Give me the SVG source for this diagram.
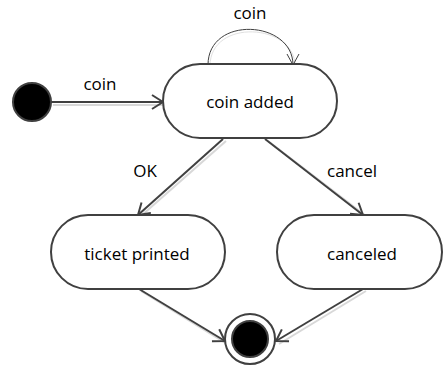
<svg xmlns="http://www.w3.org/2000/svg" width="444" height="366" viewBox="0 0 444 366">
<style>
.state{fill:#fff;stroke:#404040;stroke-width:2}
.lbl{font-family:"Open Sans","Liberation Sans",sans-serif;font-size:17px;fill:#000;text-anchor:middle}
.edge{fill:none;stroke:#404040;stroke-width:2}
.thin{fill:none;stroke:#404040;stroke-width:1}
.shadow{fill:none;stroke:#d8d8d8;stroke-width:2}
</style>
<defs>
<marker id="arr" markerUnits="userSpaceOnUse" viewBox="-1 -9 13 18" refX="11" refY="0" markerWidth="13" markerHeight="18" orient="auto">
<path d="M0,-7 L11,0 L0,7" fill="none" stroke="#404040" stroke-width="2"/>
</marker>
<marker id="arrthin" markerUnits="userSpaceOnUse" viewBox="-1 -9 13 18" refX="11" refY="0" markerWidth="13" markerHeight="18" orient="auto">
<path d="M0,-6 L11,0 L0,6" fill="none" stroke="#404040" stroke-width="1"/>
</marker>
</defs>
<g id="connectors">
<g id="shadows">
<line class="shadow" x1="53" y1="105" x2="165" y2="105"/>
<line class="shadow" x1="226" y1="141" x2="141" y2="216"/>
<line class="shadow" x1="268" y1="141" x2="366" y2="216"/>
<line class="shadow" x1="141" y1="291" x2="227" y2="344"/>
<line class="shadow" x1="366" y1="291" x2="279" y2="344"/>
<path d="M210,66 C210,18 295,23 295,66" fill="none" stroke="#e0e0e0" stroke-width="1"/>
</g>
<line class="edge" x1="51" y1="102" x2="163" y2="102" marker-end="url(#arr)"/>
<path class="thin" d="M208,65 C208,15 293,20 293,65" marker-end="url(#arrthin)"/>
<line class="edge" x1="223" y1="139" x2="138" y2="215" marker-end="url(#arr)"/>
<line class="edge" x1="265" y1="139" x2="363" y2="215" marker-end="url(#arr)"/>
<line class="edge" x1="139" y1="289" x2="225" y2="341" marker-end="url(#arr)"/>
<line class="edge" x1="363" y1="289" x2="276" y2="341" marker-end="url(#arr)"/>
<text class="lbl" x="100" y="90">coin</text>
<text class="lbl" x="250" y="19">coin</text>
<text class="lbl" x="145" y="177">OK</text>
<text class="lbl" x="352" y="177">cancel</text>
</g>
<g id="initial">
<circle cx="32" cy="102" r="19" fill="#000" stroke="#404040" stroke-width="2"/>
</g>
<g id="coin_added">
<rect class="state" x="163" y="64" width="174" height="74" rx="37" ry="37"/>
<text class="lbl" x="250" y="108">coin added</text>
</g>
<g id="ticket_printed">
<rect class="state" x="51" y="215" width="174" height="74" rx="37" ry="37"/>
<text class="lbl" x="137" y="260">ticket printed</text>
</g>
<g id="canceled">
<rect class="state" x="277" y="215" width="165" height="74" rx="37" ry="37"/>
<text class="lbl" x="362" y="260">canceled</text>
</g>
<g id="final">
<circle cx="250" cy="339" r="25" fill="#fff" stroke="#404040" stroke-width="2"/>
<circle cx="250" cy="339" r="18" fill="#000" stroke="#404040" stroke-width="2"/>
</g>
</svg>
